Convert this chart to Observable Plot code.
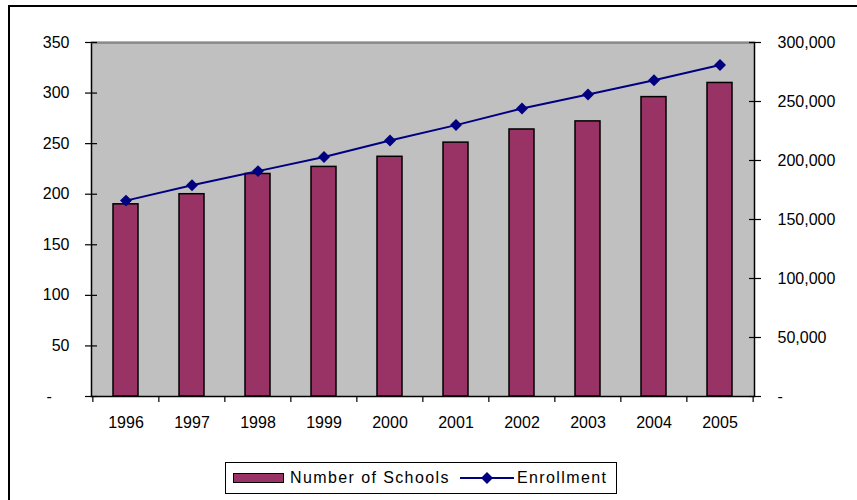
<!DOCTYPE html>
<html>
<head>
<meta charset="utf-8">
<script src="https://cdn.jsdelivr.net/npm/d3@7"></script>
<script src="https://cdn.jsdelivr.net/npm/@observablehq/plot@0.6"></script>
<style>
  html, body { margin: 0; padding: 0; background: #fff; }
  #wrap { position: relative; width: 857px; height: 500px; overflow: hidden; font-family: "Liberation Sans", Arial, sans-serif; }
  #border { position: absolute; left: 8px; top: 5px; width: 900px; height: 600px; border: 2px solid #000; box-sizing: border-box; }
  #chart { position: absolute; left: 0; top: 0; }
  #legend { position: absolute; left: 225px; top: 462px; width: 392px; height: 32px; box-sizing: border-box; border: 1px solid #000; background: #fff; display: flex; align-items: center; font-size: 16px; letter-spacing: 1.4px; color: #000; }
  .sw { display: inline-block; width: 51px; height: 10px; background: #993366; border: 1.5px solid #000; box-sizing: border-box; margin-left: 7px; margin-right: 6px; }
  .ln { margin-left: 10px; margin-right: 3px; }
</style>
</head>
<body>
<div id="wrap">
  <div id="border"></div>
  <div id="chart"></div>
  <div id="legend">
    <span class="sw"></span><span>Number of Schools</span>
    <svg class="ln" width="54" height="14"><line x1="0" y1="7" x2="54" y2="7" stroke="#000080" stroke-width="2"/><path d="M27,1 L33,7 L27,13 L21,7 Z" fill="#000080"/></svg><span>Enrollment</span>
  </div>
</div>
<script>
const years = ["1996", "1997", "1998", "1999", "2000", "2001", "2002", "2003", "2004", "2005"];
const schools = [190, 200, 220, 227, 237, 251, 264, 272, 296, 310];
const enrollment = [166000, 179000, 191000, 203000, 217000, 230000, 244000, 256000, 268000, 281000];
const leftTicks = [0, 50, 100, 150, 200, 250, 300, 350];
const rightTicks = [0, 50000, 100000, 150000, 200000, 250000, 300000];

const data = years.map((y, i) => ({year: y, schools: schools[i], enrollment: enrollment[i]}));
const ratio = d3.max(leftTicks) / d3.max(rightTicks);

const W = 857, H = 500, mL = 91, mR = 103, mT = 42, mB = 104;
const step = (W - mL - mR) / years.length;
const fmtLeft = d => d === 0 ? "-\u2007\u2007" : String(d);
const fmtRight = d => { const v = Math.round(d / ratio); return v === 0 ? "-" : d3.format(",")(v); };

const chart = Plot.plot({
  width: W, height: H,
  marginLeft: mL, marginRight: mR, marginTop: mT, marginBottom: mB,
  style: {fontFamily: "'Liberation Sans', Arial, sans-serif", fontSize: "16px", color: "#000", background: "transparent", overflow: "visible"},
  x: {domain: years, paddingInner: 0.62, paddingOuter: 0.31, axis: null},
  y: {domain: [0, d3.max(leftTicks)], axis: null},
  marks: [
    Plot.frame({fill: "#C0C0C0", stroke: "#000", strokeWidth: 1.5}),
    Plot.ruleY([d3.max(leftTicks)], {stroke: "#8a8a8a", strokeWidth: 1.5}),
    Plot.barY(data, {x: "year", y: "schools", fill: "#993366", stroke: "#000", strokeWidth: 1.5}),
    Plot.line(data, {x: "year", y: d => d.enrollment * ratio, stroke: "#000080", strokeWidth: 2}),
    Plot.dot(data, {x: "year", y: d => d.enrollment * ratio, symbol: "diamond2", r: 5.4, fill: "#000080", stroke: "none"}),
    Plot.axisY(leftTicks, {anchor: "left", label: null, tickSize: 12, dx: 6, tickPadding: 16, tickFormat: fmtLeft, strokeWidth: 1.2, letterSpacing: 0.4}),
    Plot.axisY(rightTicks.map(v => v * ratio), {anchor: "right", label: null, tickSize: 12, dx: -6, tickPadding: 17, tickFormat: fmtRight, textAnchor: "start", strokeWidth: 1.2, letterSpacing: 0.5}),
    Plot.axisX(years, {anchor: "bottom", label: null, tickSize: 6, dx: -step / 2, tickFormat: () => "", strokeWidth: 1.2}),
    Plot.axisX([years[years.length - 1]], {anchor: "bottom", label: null, tickSize: 6, dx: step / 2, tickFormat: () => "", strokeWidth: 1.2}),
    Plot.axisX(years, {anchor: "bottom", label: null, tickSize: 0, tickPadding: 20})
  ]
});
document.getElementById("chart").appendChild(chart);
</script>
</body>
</html>
